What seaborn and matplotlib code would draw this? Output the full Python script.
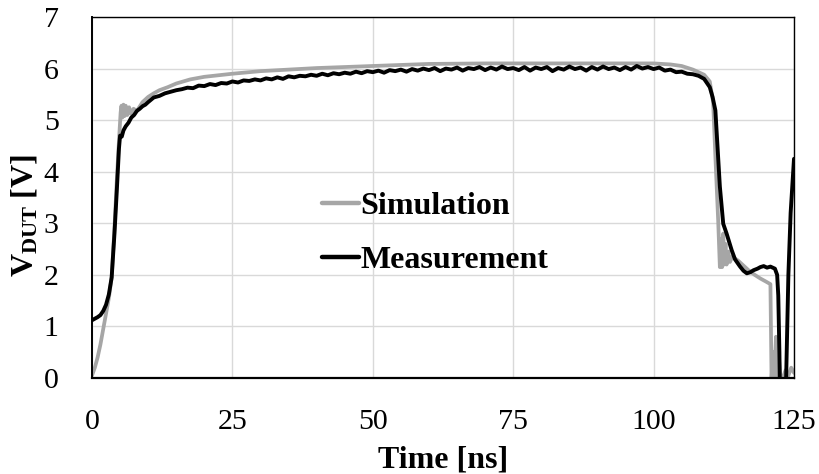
import pandas as pd
import numpy as np
import matplotlib
matplotlib.use("Agg")
import matplotlib.pyplot as plt
import seaborn as sns

# Simulation trace (time in ns, voltage in V)
sim_t = [0, 0.5, 1.0, 1.5, 2.0, 2.5, 3.0, 3.5, 4.0, 4.4, 4.8, 5.1, 5.25, 5.4, 5.6, 5.8,
         6.0, 6.3, 6.6, 7.0, 7.4, 8.0, 9.0, 10.0, 11.0, 12.0, 13.5, 15.0, 17.5, 20.0,
         25.0, 30.0, 35.0, 40.0, 45.0, 50.0, 55.0, 60.0, 70.0, 80.0, 90.0, 100.0, 103.0,
         105.0, 107.0, 109.0, 110.0, 110.6, 111.0, 111.5, 111.8, 112.0, 112.2, 112.4,
         112.6, 112.8, 113.0, 113.3, 113.6, 114.0, 115.0, 116.0, 117.0, 118.0, 119.0,
         120.0, 120.8, 121.0, 121.3, 121.5, 121.8, 122.0, 122.3, 122.6, 123.0, 123.5,
         124.0, 124.5, 125.0]
sim_v = [0.05, 0.2, 0.4, 0.65, 0.95, 1.25, 1.55, 1.95, 2.9, 3.8, 4.6, 5.15, 5.28, 5.05, 5.3, 5.08,
         5.28, 5.1, 5.25, 5.12, 5.22, 5.18, 5.35, 5.45, 5.52, 5.58, 5.64, 5.71, 5.79, 5.84,
         5.90, 5.95, 5.98, 6.01, 6.03, 6.05, 6.07, 6.09, 6.10, 6.10, 6.10, 6.10, 6.08,
         6.05, 5.98, 5.88, 5.75, 5.35, 4.3, 3.05, 2.15, 2.7, 2.15, 2.8,
         2.2, 2.6, 2.2, 2.45, 2.25, 2.35, 2.28, 2.18, 2.08, 2.0, 1.93,
         1.87, 1.82, 0.0, 0.5, 0.05, 0.8, 0.05, 0.4, 0.0, 0.0, 0.15,
         0.05, 0.2, 0.1]

# Measurement trace
meas_t = [0, 0.5, 1.0, 1.5, 2.0, 2.5, 3.0, 3.5, 4.0, 4.4, 4.8, 5.0, 5.3, 5.6, 6.0, 6.5,
          7.0, 7.5, 8.0, 8.5, 9.0, 9.5, 10.0,
          11, 12, 13, 14, 15, 16, 17, 18, 19, 20, 21, 22, 23, 24, 25, 26, 27, 28, 29, 30,
          31, 32, 33, 34, 35, 36, 37, 38, 39, 40, 41, 42, 43, 44, 45, 46, 47, 48, 49, 50,
          51, 52, 53, 54, 55, 56, 57, 58, 59, 60, 61, 62, 63, 64, 65, 66, 67, 68, 69, 70,
          71, 72, 73, 74, 75, 76, 77, 78, 79, 80, 81, 82, 83, 84, 85, 86, 87, 88, 89, 90,
          91, 92, 93, 94, 95, 96, 97, 98, 99, 100, 101, 102, 103, 104, 105, 106, 107, 108,
          109, 110, 110.5, 111, 111.8, 112.4, 113, 113.9, 114.5, 115.4, 116, 116.6, 117.2,
          117.8, 118.5, 119.0, 119.6, 120.2, 120.8, 121.6, 122.0, 122.2, 122.4, 122.6,
          123.0, 123.4, 123.7, 124.0, 124.4, 125.0]
meas_v = [1.12, 1.15, 1.18, 1.22, 1.3, 1.42, 1.62, 1.95, 2.8, 3.6, 4.45, 4.7, 4.68, 4.8, 4.88, 4.95,
          5.05, 5.1, 5.18, 5.22, 5.27, 5.3, 5.35,
          5.44, 5.47, 5.52, 5.55, 5.58, 5.60, 5.63, 5.62, 5.67, 5.66, 5.70, 5.68, 5.72, 5.71, 5.75, 5.73, 5.77, 5.76, 5.79, 5.77,
          5.81, 5.79, 5.83, 5.80, 5.85, 5.83, 5.86, 5.85, 5.88, 5.86, 5.90, 5.87, 5.91, 5.89, 5.92, 5.90, 5.94, 5.91, 5.95, 5.93,
          5.96, 5.92, 5.97, 5.95, 5.98, 5.94, 5.99, 5.96, 6.00, 5.97, 6.01, 5.95, 6.00, 5.98, 6.02, 5.96, 6.01, 5.99, 6.03, 5.97,
          6.02, 5.98, 6.04, 5.99, 6.01, 5.97, 6.03, 5.96, 6.02, 5.99, 6.03, 5.95, 6.01, 5.98, 6.04, 5.99, 6.02, 5.96, 6.03, 5.98,
          6.04, 5.99, 6.02, 5.97, 6.03, 5.98, 6.05, 6.00, 6.03, 5.99, 6.02, 5.96, 5.98, 5.93, 5.94, 5.90, 5.89, 5.86,
          5.80, 5.64, 5.45, 5.19, 3.71, 2.99, 2.8, 2.48, 2.3, 2.16, 2.08, 2.03, 2.05,
          2.09, 2.12, 2.15, 2.17, 2.14, 2.16, 2.12, 2.0, 1.6, 0.5, -1.0,
          -3.0, -1.0, 0.5, 2.0, 3.2, 4.25]

x_ticks = [0, 25, 50, 75, 100, 125]
y_ticks = [0, 1, 2, 3, 4, 5, 6, 7]

sns.set_style("white")
plt.rcParams['font.family'] = ['Liberation Serif', 'DejaVu Serif']
plt.rcParams['mathtext.fontset'] = 'custom'
plt.rcParams['mathtext.rm'] = 'Liberation Serif'
plt.rcParams['mathtext.bf'] = 'Liberation Serif:bold'
plt.rcParams['text.color'] = 'black'
plt.rcParams['axes.labelcolor'] = 'black'

fig, ax = plt.subplots(figsize=(8.2, 4.74), dpi=100)
fig.subplots_adjust(left=92 / 820, right=794 / 820, top=1 - 17 / 474, bottom=1 - 378 / 474)

sns.lineplot(x=sim_t, y=sim_v, ax=ax, color="#A6A6A6", linewidth=2.7,
             estimator=None, sort=False, label="Simulation")
sns.lineplot(x=meas_t, y=meas_v, ax=ax, color="black", linewidth=2.8,
             estimator=None, sort=False, label="Measurement")

ax.set_xlim(0, 125)
ax.set_ylim(0, 7)
ax.set_xticks(x_ticks)
ax.set_yticks(y_ticks)
ax.grid(True, color="#D9D9D9", linewidth=1.0)
ax.set_axisbelow(True)
ax.tick_params(length=0, labelsize=21.5, colors="black")
ax.tick_params(axis="x", pad=22)
ax.tick_params(axis="y", pad=24)

for s in ax.spines.values():
    s.set_visible(True)
    s.set_color("black")
    s.set_linewidth(1.0)
ax.spines["bottom"].set_linewidth(1.6)
ax.spines["left"].set_linewidth(1.4)

ax.set_xlabel("Time [ns]", fontsize=23, fontweight="bold", labelpad=8, color="black")
ax.set_ylabel(r"$\mathbf{V_{DUT}}$ [V]", fontsize=23, fontweight="bold", color="black")
ax.yaxis.set_label_coords(-0.075, 0.45)

leg = ax.legend(loc="upper left", bbox_to_anchor=(0.328, 0.515), frameon=False,
                fontsize=23, handlelength=1.15, handletextpad=0.05,
                labelspacing=0.75, borderpad=0, borderaxespad=0)
for t in leg.get_texts():
    t.set_fontweight("bold")
    t.set_color("black")
for h in leg.get_lines():
    h.set_linewidth(3.2)

fig.savefig("out.png", dpi=100)
